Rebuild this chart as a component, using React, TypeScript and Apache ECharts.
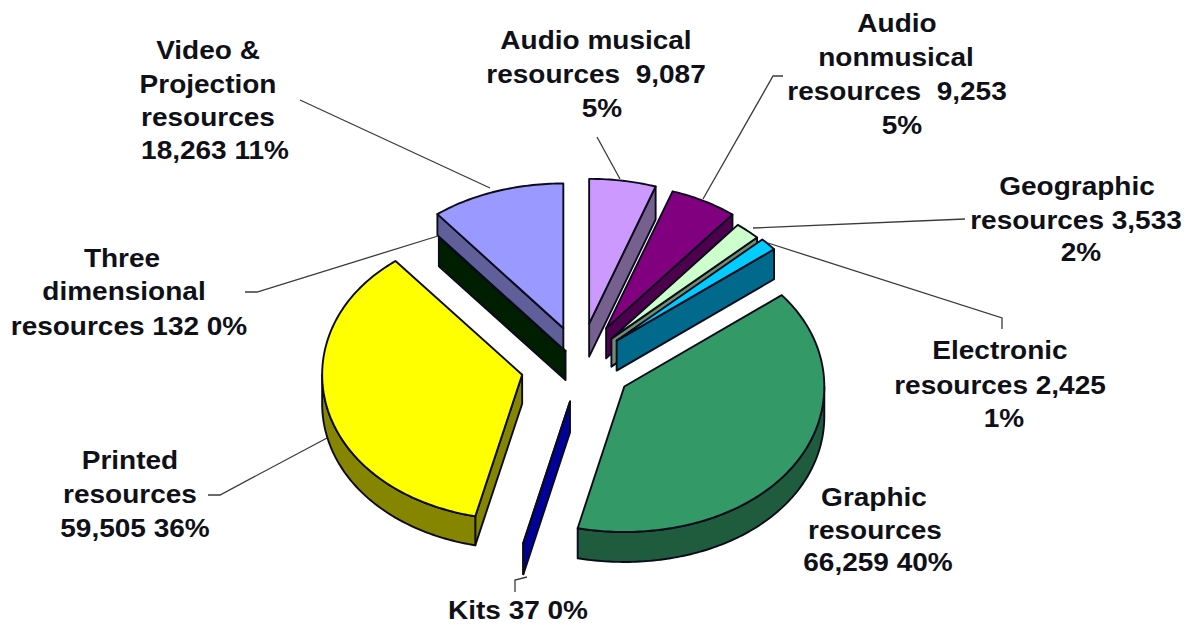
import React, { useEffect, useRef } from "react";
import * as echarts from "echarts";

const categories = ["Audio musical resources", "Audio nonmusical resources", "Geographic resources", "Electronic resources", "Graphic resources", "Kits", "Printed resources", "Three dimensional resources", "Video & Projection resources"];
const values = [9087, 9253, 3533, 2425, 66259, 37, 59505, 132, 18263];
const topColors = ["#CC99FF", "#800080", "#CCFFCC", "#00CCFF", "#339966", "#000080", "#FFFF00", "#003300", "#9999FF"];
const wallColors = ["#75608E", "#4D004D", "#6F8F6F", "#00698C", "#1F5C3D", "#00009A", "#858500", "#001E00", "#5F5F99"];
const explodes = [0.28, 0.28, 0.24, 0.25, 0.265, 0.25, 0.29, 0.12, 0.26];
const nudgeX = [1, 0, 0, 0, 1, 3, 0, 2, 2];
const depths = [33, 30, 28, 30, 30, 31, 29, 29, 21];
const drawOrder = [7, 8, 0, 1, 2, 3, 4, 5, 6];
const labelLines: [string, number, number][] = [
  ["Video &", 208, 51], ["Projection", 208, 85], ["resources", 208, 118], ["18,263 11%", 215, 151],
  ["Audio musical", 596, 41], ["resources  9,087", 596, 75], ["5%", 602, 109],
  ["Audio", 897, 24], ["nonmusical", 896, 58], ["resources  9,253", 897, 92], ["5%", 902, 126],
  ["Geographic", 1077, 187], ["resources 3,533", 1076, 221], ["2%", 1081, 253],
  ["Electronic", 1000, 351], ["resources 2,425", 1000, 386], ["1%", 1004, 419],
  ["Graphic", 874, 498], ["resources", 875, 531], ["66,259 40%", 878, 563],
  ["Kits 37 0%", 518, 611],
  ["Printed", 130, 461], ["resources", 130, 495], ["59,505 36%", 135, 529],
  ["Three", 122, 259], ["dimensional", 124, 292], ["resources 132 0%", 129, 327],
];
const leaders = [
  [[597, 137], [620, 179]],
  [[783, 76], [773, 76], [703, 199]],
  [[965, 219], [753, 228]],
  [[1002, 329], [1002, 318], [768, 243]],
  [[515, 592], [515, 580], [527, 577]],
  [[208, 495], [220, 495], [327, 438]],
  [[245, 292], [257, 292], [438, 236]],
  [[300, 100], [490, 188]],
];

const CX = 578.7, CY = 365, RX = 200, RY = 150;
const total = values.reduce((a, b) => a + b, 0);
const rad = (d: number) => (d * Math.PI) / 180;
const starts: number[] = [];
values.reduce((acc, v, i) => { starts[i] = acc; return acc + (v / total) * 360; }, 0);

function renderSlice(_params: any, api: any) {
  const i = api.value(0);
  const a0 = starts[i];
  const a1 = a0 + (api.value(1) / total) * 360;
  const mid = (a0 + a1) / 2;
  const tx = CX + nudgeX[i] + explodes[i] * RX * Math.sin(rad(mid));
  const ty = CY - explodes[i] * RY * Math.cos(rad(mid));
  const d = depths[i];
  const pt = (a: number): number[] => {
    const c = Math.cos(rad(a));
    const f = c > 0 ? 1 - 0.035 * c * c : 1 - 0.03 * c * c;
    return [tx + RX * Math.sin(rad(a)), ty - RY * f * c];
  };
  const arc = (s: number, e: number) => {
    const n = Math.max(1, Math.ceil(e - s));
    return Array.from({ length: n + 1 }, (_, k) => pt(s + ((e - s) * k) / n));
  };
  const down = (p: number[]) => [p[0], p[1] + d];
  const edge = { stroke: "#0b0b1c", lineWidth: 1.9, lineJoin: "round" };
  const children: any[] = [];
  const poly = (points: number[][], fill: string) =>
    children.push({ type: "polygon", shape: { points }, style: { fill, ...edge } });
  const face = (a: number) => {
    const p = pt(a);
    poly([[tx, ty], p, down(p), [tx, ty + d]], wallColors[i]);
  };
  if (Math.sin(rad(a0)) < 0) face(a0);
  if (Math.sin(rad(a1)) > 0) face(a1);
  const s = Math.max(a0, 90), e = Math.min(a1, 270);
  if (e > s) {
    const top = arc(s, e);
    poly([...top, ...top.slice().reverse().map(down)], wallColors[i]);
  }
  poly([[tx, ty], ...arc(a0, a1)], topColors[i]);
  return { type: "group", children };
}

export default function App() {
  const ref = useRef<HTMLDivElement>(null);
  useEffect(() => {
    document.body.style.margin = "0";
    const chart = echarts.init(ref.current!, undefined, { renderer: "svg" });
    chart.setOption({
      animation: false,
      backgroundColor: "#ffffff",
      series: [
        {
          type: "custom",
          name: "Resources",
          coordinateSystem: "none",
          renderItem: renderSlice,
          data: drawOrder.map((i) => ({ name: categories[i], value: [i, values[i]] })),
          silent: true,
        },
      ],
      graphic: [
        ...leaders.map((points) => ({
          type: "polyline",
          z: 5,
          shape: { points },
          style: { stroke: "#3a3a3a", lineWidth: 1.3, fill: "none" },
        })),
        ...labelLines.map(([text, x, y]) => ({
          type: "text",
          z: 10,
          x,
          y,
          scaleX: 1.12,
          style: {
            text,
            fill: "#101018",
            font: "bold 25px 'Liberation Sans', Arial, sans-serif",
            align: "center",
            verticalAlign: "middle",
          },
        })),
      ],
    });
    return () => chart.dispose();
  }, []);
  return <div ref={ref} style={{ width: 1198, height: 625 }} />;
}
